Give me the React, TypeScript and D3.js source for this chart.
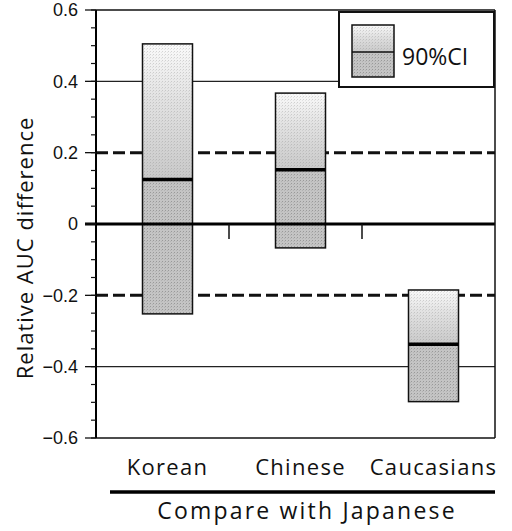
import React from "react";
import * as d3 from "d3";

const categories = ["Korean", "Chinese", "Caucasians"];
const ciUpper = [0.505, 0.367, -0.185];
const medians = [0.125, 0.152, -0.337];
const ciLower = [-0.252, -0.067, -0.498];
const yTickValues = [-0.6, -0.4, -0.2, 0, 0.2, 0.4, 0.6];
const dashedRefs = [0.2, -0.2];
const thinRefs = [0.4, -0.4];
const legendLabel = "90%CI";
const xTitle = "Compare with Japanese";
const yTitle = "Relative AUC difference";

const W = 512;
const H = 531;
const left = 96;
const right = 495;
const top = 10;
const bottom = 438;
const barW = 50;

export default function App() {
  const y = d3.scaleLinear().domain([-0.6, 0.6]).range([bottom, top]);
  const xFrame = d3.scaleBand<string>().domain(categories).range([left, right]);
  const xBar = d3.scaleBand<string>().domain(categories).range([left + 5, right + 5]);
  const minor = d3.range(-0.6, 0.6001, 0.05).map((v) => Math.round(v * 100) / 100);
  const fmt = (v: number) => (v === 0 ? "0" : (v < 0 ? "\u2212" : "") + Math.abs(v).toFixed(1));
  const sans = "'Open Sans', sans-serif";

  return (
    <svg width={W} height={H} style={{ position: "absolute", left: 0, top: 0, background: "#fff" }}>
      <defs>
        <linearGradient id="upperGrad" x1="0" y1="0" x2="0" y2="1">
          <stop offset="0" stopColor="#fafafa" />
          <stop offset="0.4" stopColor="#e2e2e2" />
          <stop offset="1" stopColor="#c9c9c9" />
        </linearGradient>
        <pattern id="dots" width="3" height="3" patternUnits="userSpaceOnUse">
          <rect x="0" y="0" width="1" height="1" fill="#777" opacity="0.55" />
          <rect x="2" y="1" width="1" height="1" fill="#999" opacity="0.4" />
        </pattern>
      </defs>

      {/* thin grid lines */}
      {thinRefs.map((v) => (
        <line key={"t" + v} x1={left} x2={right} y1={y(v)} y2={y(v)} stroke="#222" strokeWidth={1.2} />
      ))}
      {/* dashed reference lines */}
      {dashedRefs.map((v) => (
        <line key={"d" + v} x1={left} x2={right} y1={y(v)} y2={y(v)} stroke="#111" strokeWidth={3} strokeDasharray="12,5" />
      ))}

      {/* bars */}
      {categories.map((c, i) => {
        const cx = (xBar(c) as number) + xBar.bandwidth() / 2;
        const x0 = cx - barW / 2;
        return (
          <g key={c}>
            <rect x={x0} y={y(ciUpper[i])} width={barW} height={y(medians[i]) - y(ciUpper[i])} fill="url(#upperGrad)" />
            <rect x={x0} y={y(ciUpper[i])} width={barW} height={y(medians[i]) - y(ciUpper[i])} fill="url(#dots)" opacity={0.5} />
            <rect x={x0} y={y(medians[i])} width={barW} height={y(ciLower[i]) - y(medians[i])} fill="#c4c4c4" />
            <rect x={x0} y={y(medians[i])} width={barW} height={y(ciLower[i]) - y(medians[i])} fill="url(#dots)" />
            <rect x={x0} y={y(ciUpper[i])} width={barW} height={y(ciLower[i]) - y(ciUpper[i])} fill="none" stroke="#111" strokeWidth={1.5} />
          </g>
        );
      })}

      {/* zero line */}
      <line x1={left - 11} x2={right} y1={y(0)} y2={y(0)} stroke="#000" strokeWidth={3} />
      {categories.slice(1).map((c) => (
        <line key={"xt" + c} x1={xFrame(c)} x2={xFrame(c)} y1={y(0)} y2={y(0) + 15} stroke="#111" strokeWidth={1.5} />
      ))}

      {/* median lines */}
      {categories.map((c, i) => {
        const cx = (xBar(c) as number) + xBar.bandwidth() / 2;
        return (
          <line key={"m" + c} x1={cx - barW / 2} x2={cx + barW / 2} y1={y(medians[i])} y2={y(medians[i])} stroke="#000" strokeWidth={3.5} />
        );
      })}

      {/* frame */}
      <line x1={left} x2={right} y1={top} y2={top} stroke="#111" strokeWidth={1.5} />
      <line x1={right} x2={right} y1={top} y2={bottom} stroke="#111" strokeWidth={1.5} />
      <line x1={left} x2={right} y1={bottom} y2={bottom} stroke="#111" strokeWidth={1.5} />
      <line x1={left} x2={left} y1={top} y2={bottom} stroke="#000" strokeWidth={2} />

      {/* y ticks */}
      {minor.map((v) => (
        <line key={"mn" + v} x1={left - 5} x2={left} y1={y(v)} y2={y(v)} stroke="#111" strokeWidth={1.2} />
      ))}
      {yTickValues.map((v) => (
        <g key={"yt" + v}>
          <line x1={left - 11} x2={left} y1={y(v)} y2={y(v)} stroke="#111" strokeWidth={1.3} />
          <text x={left - 18} y={y(v)} dy="0.35em" textAnchor="end" fontFamily="'Liberation Sans', Arial, sans-serif" fontSize={18} fill="#111">
            {fmt(v)}
          </text>
        </g>
      ))}

      {/* y title */}
      <text transform={`translate(33, 248) rotate(-90)`} textAnchor="middle" fontFamily={sans} fontSize={22} letterSpacing={1} fill="#111">
        {yTitle}
      </text>

      {/* category labels */}
      {categories.map((c) => (
        <text key={"xl" + c} x={(xBar(c) as number) + xBar.bandwidth() / 2} y={475} textAnchor="middle" fontFamily={sans} fontSize={22} letterSpacing={1.3} fill="#111">
          {c}
        </text>
      ))}

      {/* underline and x title */}
      <line x1={110} x2={right} y1={492} y2={492} stroke="#000" strokeWidth={3.5} />
      <text x={307} y={519} textAnchor="middle" fontFamily={sans} fontSize={23} letterSpacing={2.2} fill="#111">
        {xTitle}
      </text>

      {/* legend */}
      <rect x={339} y={12} width={155} height={75} fill="#fff" stroke="#111" strokeWidth={2} />
      <rect x={352} y={25} width={42} height={27} fill="url(#upperGrad)" />
      <rect x={352} y={25} width={42} height={27} fill="url(#dots)" opacity={0.5} />
      <rect x={352} y={52} width={42} height={25} fill="#c4c4c4" />
      <rect x={352} y={52} width={42} height={25} fill="url(#dots)" />
      <rect x={352} y={25} width={42} height={52} fill="none" stroke="#111" strokeWidth={1.5} />
      <line x1={352} x2={394} y1={52} y2={52} stroke="#111" strokeWidth={1.5} />
      <text x={402} y={65} fontFamily={sans} fontSize={23} fill="#111">
        {legendLabel}
      </text>
    </svg>
  );
}
